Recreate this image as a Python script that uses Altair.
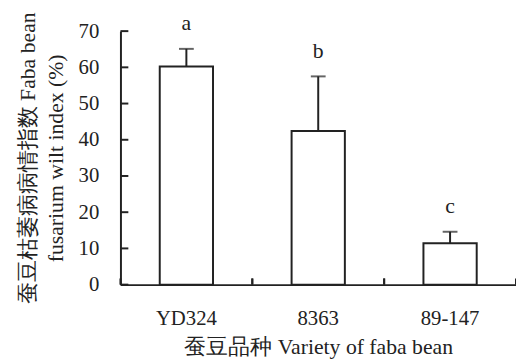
import altair as alt
import pandas as pd

varieties = ["YD324", "8363", "89-147"]
means = [60.2, 42.4, 11.4]
errors = [4.9, 15.1, 3.2]
letters = ["a", "b", "c"]
y_ticks = [0, 10, 20, 30, 40, 50, 60, 70]

df = pd.DataFrame({"variety": varieties, "mean": means, "err": errors, "letter": letters})
df["upper"] = df["mean"] + df["err"]
ticks_df = pd.DataFrame({"v": y_ticks})

FONT = "Liberation Serif"
INK = "#222222"

xscale = alt.Scale(domain=varieties, paddingInner=0, paddingOuter=0)
yscale = alt.Scale(domain=[0, 70], nice=False)

base = alt.Chart(df)

bars = base.mark_bar(size=54, fill="white", stroke=INK, strokeWidth=2).encode(
    x=alt.X("variety:N", scale=xscale, sort=varieties,
            axis=alt.Axis(title="蚕豆品种 Variety of faba bean", labelAngle=0, ticks=False,
                          labelPadding=23, titlePadding=9)),
    y=alt.Y("mean:Q", scale=yscale,
            axis=alt.Axis(title=["蚕豆枯萎病病情指数 Faba bean", "fusarium wilt index (%)"],
                          values=y_ticks, tickCount=8, ticks=False, labelPadding=22,
                          titlePadding=11, titleLineHeight=28, labelOverlap=False)),
)

err_rule = base.mark_rule(color=INK, strokeWidth=2).encode(
    x=alt.X("variety:N", sort=varieties), y="mean:Q", y2="upper:Q")

err_cap = base.mark_tick(color=INK, size=15, thickness=2).encode(
    x=alt.X("variety:N", sort=varieties), y="upper:Q")

labels = base.mark_text(font=FONT, fontSize=22, color=INK, dy=-19, baseline="alphabetic").encode(
    x=alt.X("variety:N", sort=varieties), y="upper:Q", text="letter:N")

yticks = alt.Chart(ticks_df).mark_rule(color=INK, strokeWidth=2).encode(
    y="v:Q", x=alt.value(0), x2=alt.value(8))

xticks_l = base.mark_rule(color=INK, strokeWidth=2).encode(
    x=alt.X("variety:N", sort=varieties, bandPosition=0),
    y=alt.Y(datum=0), y2=alt.Y2(datum=1.7))
xticks_r = base.mark_rule(color=INK, strokeWidth=2).encode(
    x=alt.X("variety:N", sort=varieties, bandPosition=1),
    y=alt.Y(datum=0), y2=alt.Y2(datum=1.7))

chart = alt.layer(bars, err_rule, err_cap, labels, yticks, xticks_l, xticks_r).properties(
    width=401, height=257,
    background="white",
    autosize=alt.AutoSizeParams(type="none"),
    padding={"left": 114, "top": 21, "right": 0, "bottom": 76},
).configure_view(stroke=None).configure_axis(
    domainColor=INK, domainWidth=2, grid=False,
    labelFont=FONT, labelFontSize=21, labelColor=INK,
    titleFont=FONT, titleFontSize=22, titleColor=INK, titleFontWeight="normal",
).configure_axisY(tickCount=8, labelOverlap=False)

chart.save("out.html", embed_options={"renderer": "svg", "actions": False})
